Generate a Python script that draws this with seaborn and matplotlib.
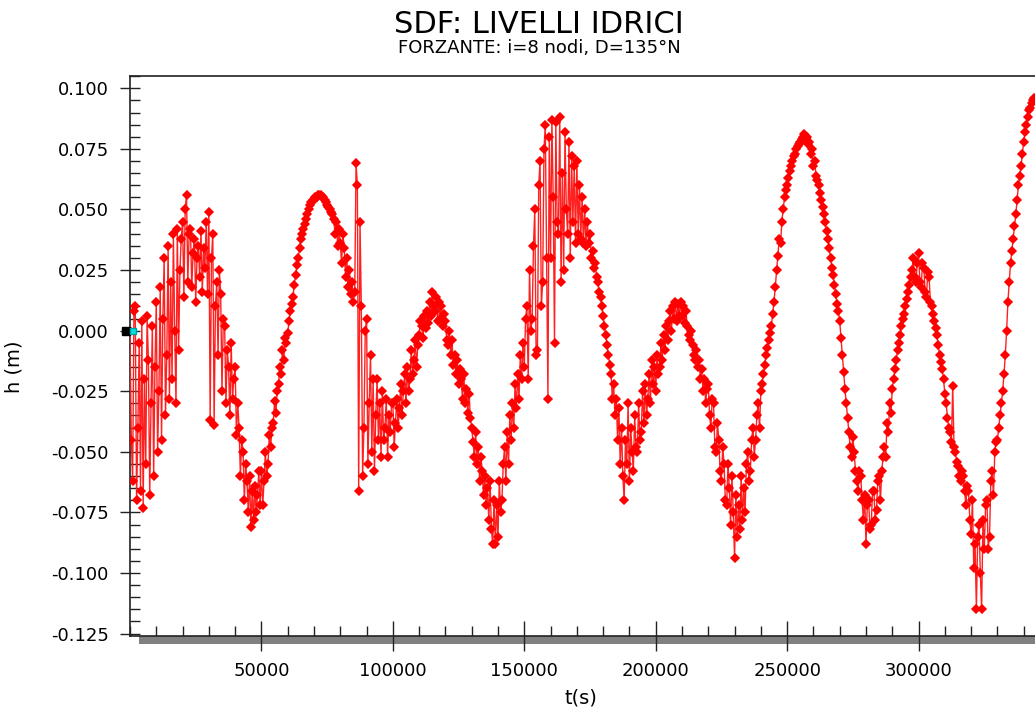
import numpy as np
import pandas as pd
import matplotlib
matplotlib.use("Agg")
import matplotlib.pyplot as plt
import matplotlib.transforms as mtransforms
from matplotlib.patches import Rectangle
from matplotlib.ticker import MultipleLocator
import seaborn as sns

# ---- data, one value every 500 s ----
time_step_s = 500
h_block_00 = [0.000, -0.045, -0.062, 0.008, 0.010, -0.070, -0.040, -0.005, -0.066, 0.004,
              -0.073, -0.020, -0.055, 0.006, -0.012, -0.068, -0.030, 0.002, -0.060, -0.015]
h_block_01 = [0.012, -0.050, -0.025, 0.018, -0.045, 0.005, 0.030, -0.035, -0.010, 0.035,
              -0.028, 0.020, -0.020, 0.040, 0.000, -0.030, 0.042, -0.008, 0.025, 0.038]
h_block_02 = [0.045, 0.014, 0.050, 0.056, 0.020, 0.040, 0.042, 0.018, 0.032, 0.038,
              0.012, 0.030, 0.035, 0.022, 0.041, 0.016, 0.034, 0.026, 0.045, 0.015]
h_block_03 = [0.049, -0.037, 0.030, 0.040, -0.039, 0.010, 0.020, -0.010, 0.025, 0.015,
              -0.025, 0.005, 0.002, -0.030, -0.008, -0.015, -0.035, -0.005, -0.028, -0.020]
h_block_04 = [-0.015, -0.043, -0.030, -0.040, -0.060, -0.045, -0.050, -0.070, -0.055, -0.062,
              -0.075, -0.060, -0.081, -0.066, -0.078, -0.064, -0.075, -0.068, -0.058, -0.072]
h_block_05 = [-0.058, -0.072, -0.062, -0.050, -0.060, -0.055, -0.043, -0.048, -0.040, -0.038,
              -0.029, -0.034, -0.025, -0.022, -0.015, -0.018, -0.008, -0.012, -0.003, -0.005]
h_block_06 = [-0.001, 0.004, 0.008, 0.011, 0.014, 0.019, 0.023, 0.027, 0.030, 0.034,
              0.038, 0.040, 0.042, 0.044, 0.046, 0.048, 0.050, 0.052, 0.053, 0.054]
h_block_07 = [0.054, 0.055, 0.055, 0.056, 0.056, 0.056, 0.055, 0.055, 0.054, 0.053,
              0.052, 0.051, 0.050, 0.049, 0.048, 0.046, 0.040, 0.045, 0.035, 0.042]
h_block_08 = [0.036, 0.028, 0.040, 0.034, 0.022, 0.030, 0.018, 0.025, 0.015, 0.020,
              0.012, 0.016, 0.069, 0.060, -0.066, 0.045, 0.010, -0.060, -0.040, 0.000]
h_block_09 = [0.005, -0.055, -0.030, -0.010, -0.050, -0.020, -0.058, -0.035, -0.020, -0.045,
              -0.030, -0.052, -0.025, -0.045, -0.040, -0.028, -0.052, -0.035, -0.042, -0.030]
h_block_10 = [-0.030, -0.048, -0.038, -0.028, -0.040, -0.032, -0.022, -0.035, -0.025, -0.018,
              -0.030, -0.015, -0.025, -0.020, -0.008, -0.018, -0.012, -0.004, -0.015, -0.006]
h_block_11 = [-0.002, 0.004, 0.002, -0.003, 0.006, 0.001, 0.008, 0.003, 0.012, 0.006,
              0.016, 0.010, 0.008, 0.014, 0.004, 0.012, 0.005, 0.010, 0.002, 0.007]
h_block_12 = [0.004, -0.004, -0.006, 0.000, -0.010, -0.004, -0.014, -0.010, -0.018, -0.012,
              -0.022, -0.016, -0.020, -0.028, -0.018, -0.030, -0.024, -0.034, -0.026, -0.036]
h_block_13 = [-0.040, -0.046, -0.052, -0.042, -0.055, -0.048, -0.062, -0.052, -0.058, -0.068,
              -0.060, -0.072, -0.065, -0.078, -0.062, -0.082, -0.088, -0.070, -0.088, -0.072]
h_block_14 = [-0.085, -0.062, -0.075, -0.070, -0.055, -0.048, -0.062, -0.042, -0.055, -0.035,
              -0.045, -0.030, -0.040, -0.022, -0.032, -0.018, -0.028, -0.010, -0.020, -0.005]
h_block_15 = [-0.015, 0.005, 0.010, -0.020, 0.025, 0.000, 0.005, 0.035, 0.050, -0.010,
              -0.008, 0.060, 0.070, 0.010, 0.020, 0.075, 0.085, 0.030, -0.028, 0.080]
h_block_16 = [0.030, 0.087, 0.055, -0.005, 0.086, 0.045, 0.040, 0.088, 0.020, 0.065,
              0.025, 0.082, 0.050, 0.040, 0.078, 0.030, 0.072, 0.045, 0.068, 0.036]
h_block_17 = [0.070, 0.040, 0.060, 0.038, 0.055, 0.036, 0.050, 0.035, 0.045, 0.036,
              0.040, 0.030, 0.033, 0.026, 0.028, 0.022, 0.020, 0.016, 0.014, 0.010]
h_block_18 = [0.006, 0.002, -0.002, -0.006, -0.010, -0.014, -0.018, -0.028, -0.022, -0.035,
              -0.028, -0.045, -0.032, -0.055, -0.040, -0.060, -0.070, -0.045, -0.055, -0.030]
h_block_19 = [-0.062, -0.040, -0.050, -0.058, -0.035, -0.048, -0.050, -0.030, -0.045, -0.042,
              -0.025, -0.038, -0.022, -0.035, -0.028, -0.018, -0.030, -0.012, -0.022, -0.015]
h_block_20 = [-0.025, -0.010, -0.018, -0.015, -0.005, -0.012, -0.002, -0.008, 0.002, -0.004,
              0.004, 0.008, 0.000, 0.010, 0.005, 0.012, 0.004, 0.011, 0.006, 0.012]
h_block_21 = [0.006, 0.010, 0.003, 0.008, 0.002, -0.002, -0.004, 0.000, -0.006, -0.010,
              -0.012, -0.008, -0.015, -0.012, -0.020, -0.016, -0.025, -0.020, -0.030, -0.024]
h_block_22 = [-0.022, -0.035, -0.040, -0.028, -0.030, -0.048, -0.050, -0.038, -0.045, -0.058,
              -0.062, -0.048, -0.055, -0.070, -0.072, -0.055, -0.065, -0.080, -0.060, -0.075]
h_block_23 = [-0.094, -0.068, -0.085, -0.072, -0.082, -0.060, -0.078, -0.065, -0.075, -0.055,
              -0.050, -0.062, -0.058, -0.045, -0.040, -0.052, -0.045, -0.035, -0.030, -0.040]
h_block_24 = [-0.025, -0.022, -0.018, -0.014, -0.010, -0.007, -0.004, -0.001, 0.002, 0.007,
              0.012, 0.018, 0.025, 0.031, 0.038, 0.036, 0.045, 0.050, 0.055, 0.058]
h_block_25 = [0.060, 0.063, 0.066, 0.068, 0.070, 0.072, 0.073, 0.075, 0.076, 0.077,
              0.078, 0.079, 0.080, 0.081, 0.079, 0.080, 0.077, 0.078, 0.073, 0.075]
h_block_26 = [0.068, 0.070, 0.064, 0.062, 0.060, 0.057, 0.054, 0.051, 0.048, 0.045,
              0.041, 0.038, 0.034, 0.030, 0.026, 0.023, 0.019, 0.015, 0.011, 0.008]
h_block_27 = [0.004, -0.003, -0.010, -0.017, -0.024, -0.030, -0.036, -0.042, -0.048, -0.052,
              -0.044, -0.050, -0.058, -0.062, -0.066, -0.058, -0.060, -0.070, -0.078, -0.068]
h_block_28 = [-0.088, -0.072, -0.070, -0.082, -0.080, -0.066, -0.066, -0.078, -0.074, -0.062,
              -0.060, -0.070, -0.058, -0.052, -0.048, -0.052, -0.038, -0.042, -0.030, -0.034]
h_block_29 = [-0.024, -0.020, -0.016, -0.012, -0.008, -0.005, -0.002, 0.002, 0.005, 0.007,
              0.010, 0.013, 0.016, 0.019, 0.022, 0.025, 0.030, 0.022, 0.020, 0.028]
h_block_30 = [0.032, 0.020, 0.018, 0.028, 0.026, 0.016, 0.014, 0.024, 0.022, 0.012,
              0.010, 0.007, 0.004, 0.001, -0.002, -0.006, -0.010, -0.013, -0.016, -0.020]
h_block_31 = [-0.026, -0.030, -0.036, -0.040, -0.042, -0.046, -0.023, -0.048, -0.050, -0.054,
              -0.056, -0.060, -0.062, -0.058, -0.060, -0.066, -0.072, -0.064, -0.066, -0.078]
h_block_32 = [-0.084, -0.070, -0.098, -0.088, -0.115, -0.085, -0.080, -0.100, -0.115, -0.078,
              -0.090, -0.072, -0.070, -0.090, -0.085, -0.062, -0.058, -0.068, -0.050, -0.046]
h_block_33 = [-0.045, -0.040, -0.035, -0.030, -0.025, -0.018, -0.010, 0.000, 0.012, 0.020,
              0.028, 0.033, 0.038, 0.043, 0.048, 0.054, 0.060, 0.064, 0.068, 0.073]
h_block_34 = [0.078, 0.082, 0.085, 0.088, 0.091, 0.092, 0.094, 0.095, 0.096]

x_ticks = [50000, 100000, 150000, 200000, 250000, 300000]
x_tick_labels = ["50000", "100000", "150000", "200000", "250000", "300000"]
y_ticks = [0.100, 0.075, 0.050, 0.025, 0.000, -0.025, -0.050, -0.075, -0.100, -0.125]
y_tick_labels = ["0.100", "0.075", "0.050", "0.025", "0.000", "-0.025",
                 "-0.050", "-0.075", "-0.100", "-0.125"]

title_text = "SDF: LIVELLI IDRICI"
subtitle_text = "FORZANTE: i=8 nodi, D=135°N"
x_label = "t(s)"
y_label = "h (m)"

h_values = (h_block_00 + h_block_01 + h_block_02 + h_block_03 + h_block_04 + h_block_05
            + h_block_06 + h_block_07 + h_block_08 + h_block_09 + h_block_10 + h_block_11
            + h_block_12 + h_block_13 + h_block_14 + h_block_15 + h_block_16 + h_block_17
            + h_block_18 + h_block_19 + h_block_20 + h_block_21 + h_block_22 + h_block_23
            + h_block_24 + h_block_25 + h_block_26 + h_block_27 + h_block_28 + h_block_29
            + h_block_30 + h_block_31 + h_block_32 + h_block_33 + h_block_34)
t_values = [i * time_step_s for i in range(len(h_values))]
df = pd.DataFrame({"t": t_values, "h": h_values})

# ---- styling ----
sns.set_theme(style="white")
plt.rcParams["font.family"] = ["DejaVu Sans"]
plt.rcParams["text.color"] = "black"
plt.rcParams["axes.labelcolor"] = "black"
plt.rcParams["xtick.color"] = "black"
plt.rcParams["ytick.color"] = "black"

fig = plt.figure(figsize=(10.35, 7.08), dpi=100)
ax = fig.add_axes([130 / 1035, 1 - 636 / 708, 1 - 130 / 1035, (636 - 75.7) / 708])

sns.lineplot(data=df, x="t", y="h", ax=ax, sort=False, estimator=None,
             color="#ff2020", linewidth=1.0, marker="D", markersize=4.5,
             markerfacecolor="#ff0000", markeredgecolor="#ff0000",
             markeredgewidth=1.1, zorder=3)

ax.set_xlim(0, 344300)
ax.set_ylim(-0.126, 0.1052)

ax.set_xticks(x_ticks)
ax.set_xticklabels(x_tick_labels)
ax.set_yticks(y_ticks)
ax.set_yticklabels(y_tick_labels)
ax.xaxis.set_minor_locator(MultipleLocator(10000))
ax.yaxis.set_minor_locator(MultipleLocator(0.005))

ax.tick_params(axis="y", which="major", direction="inout", length=14.5, width=1.0,
               color="#222222", labelsize=13, pad=8, left=True, labelcolor="black")
ax.tick_params(axis="y", which="minor", direction="in", length=7.2, width=1.0,
               color="#222222", left=True)
ax.tick_params(axis="x", which="major", direction="inout", length=21, width=1.0,
               color="#222222", labelsize=13, pad=8, bottom=True, labelcolor="black")
ax.tick_params(axis="x", which="minor", direction="in", length=7.2, width=1.0,
               color="#222222", bottom=True)

for side in ["left", "top", "bottom"]:
    ax.spines[side].set_visible(True)
    ax.spines[side].set_color("#222222")
    ax.spines[side].set_linewidth(1.2)
ax.spines["right"].set_visible(False)

ax.set_xlabel(x_label, fontsize=14, color="black")
ax.set_ylabel(y_label, fontsize=14, color="black")
ax.xaxis.set_label_coords(0.498, -0.094)
ax.yaxis.set_label_coords(-0.118, 0.48)

# grey scroll bar under the x axis
bar = Rectangle((9 / 905, -8 / 560.3), 1.0, 8 / 560.3, transform=ax.transAxes,
                facecolor="#808080", edgecolor="none", clip_on=False, zorder=0.5)
ax.add_patch(bar)

# cursor markers at the first data point
off_black = mtransforms.ScaledTranslation(-4 / 100, 0, fig.dpi_scale_trans)
off_cyan = mtransforms.ScaledTranslation(3 / 100, 0, fig.dpi_scale_trans)
ax.plot([t_values[0]], [h_values[0]], marker="s", markersize=6, color="black",
        linestyle="none", clip_on=False, zorder=5,
        transform=ax.transData + off_black)
ax.plot([t_values[0]], [h_values[0]], marker="s", markersize=4.5, color="#00e0e0",
        markeredgecolor="#00a0a0", linestyle="none", clip_on=False, zorder=6,
        transform=ax.transData + off_cyan)

fig.text(539 / 1035, 1 - 33 / 708, title_text, ha="center", va="baseline", fontsize=22,
         color="black")
fig.text(539 / 1035, 1 - 53 / 708, subtitle_text, ha="center", va="baseline", fontsize=13,
         color="black")

fig.savefig("out.png", dpi=100, facecolor="white")
